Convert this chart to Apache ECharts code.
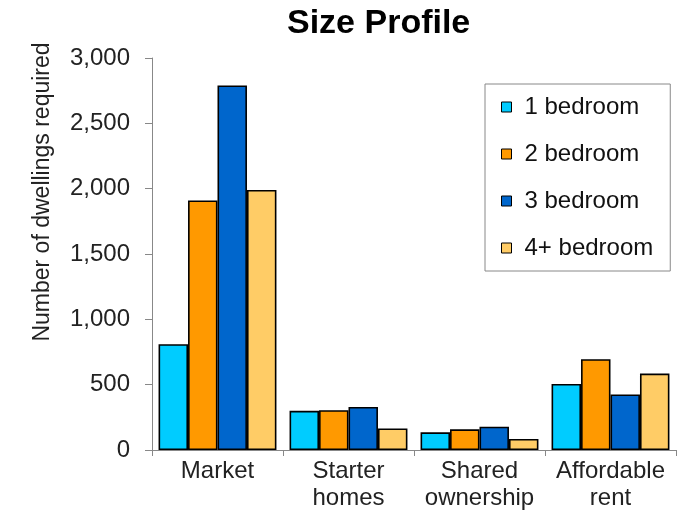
<!DOCTYPE html>
<html><head><meta charset="utf-8">
<script src="https://cdn.jsdelivr.net/npm/echarts@6/dist/echarts.min.js"></script>
<style>html,body{margin:0;padding:0;background:#fff}#c{width:680px;height:511px}</style>
</head><body><div id="c"></div>
<script>
const categories = ['Market', 'Starter\nhomes', 'Shared\nownership', 'Affordable\nrent'];
const seriesNames = ['1 bedroom', '2 bedroom', '3 bedroom', '4+ bedroom'];
const oneBed = [810, 300, 135, 505];
const twoBed = [1910, 305, 158, 695];
const threeBed = [2790, 330, 178, 425];
const fourBed = [1990, 165, 84, 585];
const yTicks = [0, 500, 1000, 1500, 2000, 2500, 3000];
const colors = ['#00CCFF', '#FF9900', '#0066CC', '#FFCC66'];
const values = [oneBed, twoBed, threeBed, fourBed];
const font = 'Liberation Sans, Arial, sans-serif';
const chart = echarts.init(document.getElementById('c'));
chart.setOption({
  animation: false,
  title: { text: 'Size Profile', left: 282, top: 2, textStyle: { fontFamily: font, fontSize: 34, fontWeight: 'bold', color: '#000' } },
  legend: {
    orient: 'vertical', left: 485, top: 84,
    padding: [11, 17, 11, 16], itemGap: 23, itemWidth: 10, itemHeight: 10,
    borderColor: '#888', borderWidth: 1,
    textStyle: { fontFamily: font, fontSize: 24, color: '#111', padding: [0, 0, 0, 8] },
    data: seriesNames.map(n => ({ name: n, icon: 'rect', itemStyle: { borderColor: '#000', borderWidth: 1 } }))
  },
  grid: { left: 152, right: 4, top: 58, bottom: 61, containLabel: false, outerBoundsMode: 'none' },
  xAxis: {
    type: 'category', data: categories,
    axisLine: { lineStyle: { color: '#888' } },
    axisTick: { show: true, length: 6, lineStyle: { color: '#888' } },
    axisLabel: { interval: 0, fontFamily: font, fontSize: 24, color: '#222', lineHeight: 27, margin: 8 }
  },
  yAxis: {
    type: 'value', min: yTicks[0], max: yTicks[yTicks.length - 1], interval: 500,
    name: 'Number of dwellings required', nameLocation: 'middle', nameGap: 98,
    nameTextStyle: { fontFamily: font, fontSize: 23, color: '#222', padding: [0, 0, 0, 124] },
    axisLine: { show: true, lineStyle: { color: '#888' } },
    axisTick: { show: true, length: 7, lineStyle: { color: '#888' } },
    splitLine: { show: false },
    axisLabel: { fontFamily: font, fontSize: 24, color: '#222', margin: 22,
      formatter: v => v.toLocaleString('en-US') }
  },
  series: seriesNames.map((n, i) => ({
    name: n, type: 'bar', data: values[i], barGap: '0%', barCategoryGap: '10%',
    itemStyle: { color: colors[i], borderColor: '#000', borderWidth: 1.6 }
  }))
});
</script></body></html>
